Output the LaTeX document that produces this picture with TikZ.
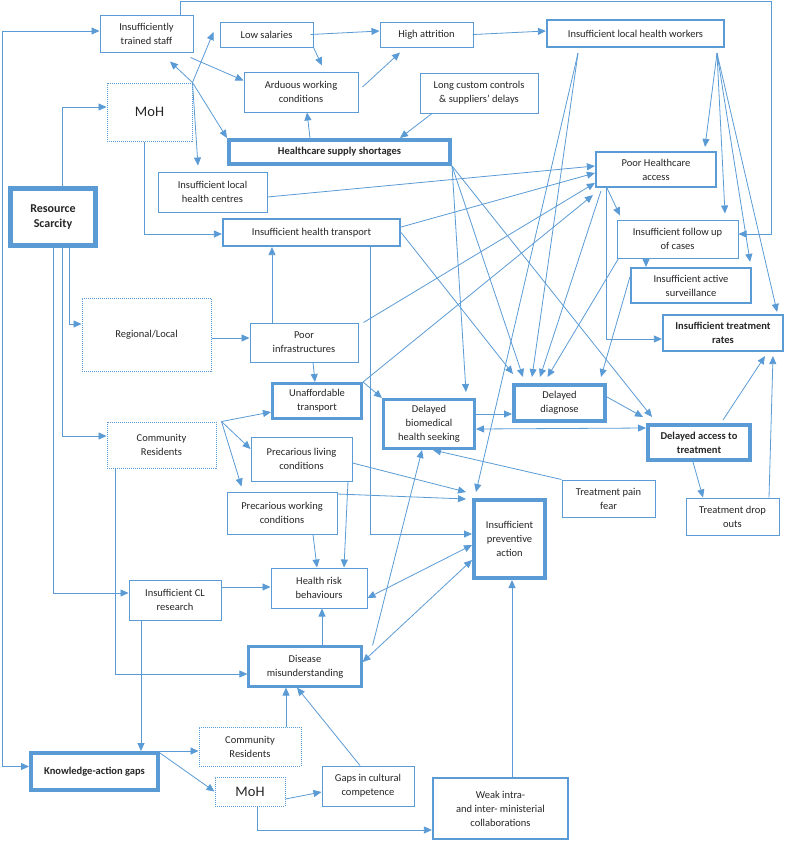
\documentclass[tikz,border=0pt]{standalone}
\usepackage{fontspec}
\setmainfont{Carlito}
\usetikzlibrary{arrows.meta}
\definecolor{bl}{RGB}{91,155,213}
\begin{document}
\begin{tikzpicture}[x=1pt,y=-1pt,
  box/.style={draw=bl, line width=1pt, align=center, inner sep=1pt, text=black!85,
    font=\fontsize{10.5}{14}\selectfont},
  med/.style={box, line width=2.2pt},
  mth/.style={box, line width=3pt},
  thk/.style={box, line width=4pt},
  dot/.style={box, line width=1pt, dash pattern=on 1pt off 1pt},
  big/.style={font=\fontsize{14.5}{17}\selectfont},
  bld/.style={font=\fontsize{10.5}{14}\selectfont\bfseries},
  arr/.style={draw=bl, line width=0.8pt, -{Triangle[length=8pt,width=7pt]}},
  barr/.style={draw=bl, line width=0.8pt, {Triangle[length=8pt,width=7pt]}-{Triangle[length=8pt,width=7pt]}},
]
\fill[white] (0,0) rectangle (785,841);
\useasboundingbox (0,0) rectangle (785,841);

% ---------------- nodes ----------------
\node[box, minimum width=93pt, minimum height=37pt] (ITS) at (146.5,33.5) {Insufficiently\\trained staff};
\node[box, minimum width=93pt, minimum height=25pt] (LS) at (266.5,34.5) {Low salaries};
\node[box, minimum width=93pt, minimum height=25pt] (HA) at (426.5,34.5) {High attrition};
\node[med, minimum width=177pt, minimum height=27pt] (ILHW) at (635.5,33.5) {Insufficient local health workers};
\node[box, minimum width=114pt, minimum height=40pt] (ARD) at (301,92) {Arduous working\\conditions};
\node[box, minimum width=118pt, minimum height=40pt] (LCC) at (479,93) {Long custom controls\\\& suppliers’ delays};
\node[dot, big, minimum width=85pt, minimum height=58pt] (MOHa) at (149.5,112) {MoH};
\node[thk, bld, minimum width=221pt, minimum height=24pt] (HSS) at (339.5,152) {Healthcare supply shortages};
\node[box, minimum width=109pt, minimum height=40pt] (ILHC) at (212.5,192) {Insufficient local\\health centres};
\node[box, line width=5pt, font=\fontsize{12}{15}\selectfont\bfseries, minimum width=85pt, minimum height=57pt] (RS) at (53,217) {Resource\\Scarcity};
\node[med, minimum width=120pt, minimum height=35pt] (PHA) at (656,169.5) {Poor Healthcare\\access};
\node[med, minimum width=177pt, minimum height=27pt] (ILHT) at (311.5,232.5) {Insufficient health transport};
\node[box, minimum width=121pt, minimum height=38pt] (ILFU) at (677.5,239) {Insufficient follow up\\of cases};
\node[med, minimum width=120pt, minimum height=35pt] (IAS) at (691,285.5) {Insufficient active\\surveillance};
\node[med, bld, minimum width=120pt, minimum height=36pt] (ITR) at (723,333) {Insufficient treatment\\rates};
\node[dot, minimum width=129pt, minimum height=73pt] (REG) at (146.5,334.5) {Regional/Local};
\node[box, minimum width=108pt, minimum height=39pt] (PI) at (304,342.5) {Poor\\infrastructures};
\node[mth, minimum width=89pt, minimum height=35pt] (UT) at (317,401) {Unaffordable\\transport};
\node[mth, minimum width=91pt, minimum height=49pt] (DBHS) at (429,424) {Delayed\\biomedical\\health seeking};
\node[thk, minimum width=91pt, minimum height=36pt] (DD) at (559.5,403) {Delayed\\diagnose};
\node[thk, bld, minimum width=102pt, minimum height=35pt] (DAT) at (699,442.5) {Delayed access to\\treatment};
\node[dot, minimum width=109pt, minimum height=46pt] (CRa) at (161.5,445) {Community\\Residents};
\node[box, minimum width=101pt, minimum height=44pt] (PLC) at (301.5,459) {Precarious living\\conditions};
\node[box, minimum width=110pt, minimum height=42pt] (PWC) at (282,513) {Precarious working\\conditions};
\node[box, minimum width=93pt, minimum height=37pt] (TPF) at (608.5,498.5) {Treatment pain\\fear};
\node[box, minimum width=93pt, minimum height=37pt] (TDO) at (732.5,516.5) {Treatment drop\\outs};
\node[thk, minimum width=71pt, minimum height=78pt] (IPA) at (509.5,539) {Insufficient\\preventive\\action};
\node[box, minimum width=96pt, minimum height=40pt] (HRB) at (319,588) {Health risk\\behaviours};
\node[box, minimum width=92pt, minimum height=40pt] (ICLR) at (175,600) {Insufficient CL\\research};
\node[med, minimum width=113pt, minimum height=40pt] (DM) at (305,666.5) {Disease\\misunderstanding};
\node[dot, minimum width=102pt, minimum height=39pt] (CRb) at (250,746.5) {Community\\Residents};
\node[thk, bld, minimum width=127pt, minimum height=37pt] (KAG) at (94.5,771.5) {Knowledge-action gaps};
\node[dot, big, minimum width=70pt, minimum height=29pt] (MOHb) at (250,791.5) {MoH};
\node[box, minimum width=92pt, minimum height=40pt] (GCC) at (368,786) {Gaps in cultural\\competence};
\node[med, minimum width=135pt, minimum height=61pt] (WEAK) at (500.5,808.5) {Weak intra-\\and inter- ministerial\\collaborations};

\coordinate (tr) at (771,1);
\coordinate (tl) at (2,1);

% ---------------- frame connectors ----------------
\draw[barr] ([yshift=2.5pt]ITS.west) -| ([yshift=5pt]KAG.west -| tl) -- ([yshift=5pt]KAG.west);
\draw[arr] ([xshift=33.5pt]ITS.north) |- (tr) |- ([yshift=5pt]ILFU.east);

% ---------------- top ----------------
\draw[arr] ([xshift=-3pt,yshift=-5pt]ITS.south east) -- ([yshift=-9pt]ARD.north west);
\draw[arr] (MOHa.north east) -- ([xshift=-6pt,yshift=2.5pt]LS.west);
\draw[arr] (MOHa.north east) -- ([xshift=23.5pt,yshift=-9pt]ITS.south);
\draw[arr] (MOHa.north east) -- (HSS.north west);
\draw[arr] (MOHa.north east) -- ([xshift=-14.5pt,yshift=6pt]ILHC.north);
\draw[arr] (LS.south east) -- ([xshift=21pt,yshift=6pt]ARD.north);
\draw[arr] ([xshift=-3pt]LS.east) -- ([yshift=3.5pt]HA.west);
\draw[arr] ([xshift=4pt,yshift=5pt]ARD.east) -- ([xshift=-26.5pt,yshift=-5pt]HA.south);
\draw[arr] (HA.east) -- ([yshift=2.5pt]ILHW.west);
\draw[arr] ([xshift=-29.5pt]HSS.north) -- ([xshift=6pt]ARD.south);
\draw[arr] ([xshift=-47pt]LCC.south) -- ([xshift=60.5pt]HSS.north);

% ---------------- left orthogonal ----------------
\draw[arr] ([xshift=9pt]RS.north) |- ([yshift=5pt]MOHa.west);
\draw[arr] ([xshift=-5.5pt]MOHa.south) |- ([yshift=-1.5pt]ILHT.west);
\draw[arr] ([xshift=16pt]RS.south) |- ([yshift=10.5pt]REG.west);
\draw[arr] ([xshift=9pt]RS.south) |- ([yshift=9pt]CRa.west);
\draw[arr] (RS.south) |- ([yshift=7pt]ICLR.west);
\draw[arr] ([xshift=-46.5pt]CRa.south) |- ([yshift=-7.5pt]DM.west);
\draw[arr] ([xshift=-34pt]ICLR.south) -- ([xshift=-34pt]ICLR.south |- KAG.north);
\draw[arr] ([yshift=13pt]ICLR.east) -- ([yshift=13pt]ICLR.east -| HRB.west);

% ---------------- bottom ----------------
\draw[arr] (KAG.north east) -- (KAG.north east -| CRb.west);
\draw[arr] ([yshift=-2pt]KAG.north east) -- (MOHb.west);
\draw[arr] ([yshift=-7.5pt]MOHb.east) -- ([yshift=-6pt]GCC.west);
\draw[arr] ([xshift=7pt]MOHb.south) |- ([yshift=-21.5pt]WEAK.west);
\draw[arr] ([xshift=36pt]CRb.north) -- ([xshift=36pt]CRb.north |- DM.south);
\draw[arr] ([xshift=-8pt]GCC.north) -- ([xshift=-8pt]DM.south);
\draw[arr] ([xshift=11.5pt]WEAK.north) -- ([xshift=11.5pt]WEAK.north |- IPA.south);
\draw[arr] ([xshift=17pt]DM.north) -- ([xshift=17pt]DM.north |- HRB.south);
\draw[arr] ([xshift=10pt]DM.north east) -- ([xshift=-7pt]DBHS.south);
\draw[barr] ([yshift=4.5pt]DM.east) -- ([yshift=-21pt]IPA.west);
\draw[barr] ([yshift=-10pt]HRB.east) -- ([yshift=-6pt]IPA.west);

% ---------------- middle left ----------------
\draw[arr] ([yshift=-4pt]PLC.east) -- ([xshift=-6pt,yshift=6pt]IPA.north west);
\draw[arr] ([xshift=46.5pt]PLC.south) -- ([xshift=25pt]HRB.north);
\draw[arr] ([yshift=19pt]PWC.east) -- ([xshift=-6pt,yshift=-1pt]IPA.north west);
\draw[arr] ([xshift=31pt]PWC.south) -- ([xshift=-2pt]HRB.north);
\draw[arr] ([xshift=58.5pt]ILHT.south) |- ([yshift=5pt]IPA.west);
\draw[arr] ([xshift=5pt]CRa.north east) -- ([yshift=-11pt]UT.west);
\draw[arr] ([xshift=5pt]CRa.north east) -- ([yshift=10pt]PLC.west);
\draw[arr] ([xshift=5pt]CRa.north east) -- ([xshift=15pt,yshift=5pt]PWC.north west);
\draw[arr] ([yshift=-3.5pt]REG.east) -- ([yshift=-3.5pt]REG.east -| PI.west);
\draw[arr] ([xshift=-32pt]PI.north) -- ([xshift=-32pt]PI.north |- ILHT.south);
\draw[arr] ([xshift=9pt]PI.south) -- ([xshift=-2pt]UT.north);
\draw[arr] ([yshift=-5pt]ILHC.east) -- ([yshift=3.5pt]PHA.west);
\draw[arr] ([yshift=5.5pt]ILHT.east) -- ([yshift=-3.5pt]PHA.west);
\draw[arr] ([xshift=5pt]PI.north east) -- ([yshift=-13.5pt]PHA.west);
\draw[arr] (UT.north east) -- ([xshift=-2pt,yshift=-7pt]PHA.south west);
\draw[arr] (UT.north east) -- (DBHS.north west);

% ---------------- middle ----------------
\draw[arr] ([yshift=10pt]DBHS.east) -- ([yshift=10pt]DBHS.east -| DD.west);
\draw[barr] ([yshift=-5pt]DBHS.east) -- ([yshift=14.5pt]DAT.west);
\draw[arr] (TPF.north west) -- ([xshift=4pt]DBHS.south);
\draw[arr] ([yshift=6pt]DD.east) -- ([xshift=-3pt,yshift=6pt]DAT.north west);
\draw[arr] (HSS.south east) -- ([xshift=6pt,yshift=6pt]DAT.north west);
\draw[arr] (HSS.south east) -- ([xshift=-36.5pt,yshift=6pt]DD.north);
\draw[arr] (HSS.south east) -- ([xshift=37pt,yshift=6pt]DBHS.north);
\draw[arr] (ILHT.east) -- ([xshift=-46.5pt,yshift=9pt]DD.north);
\draw[arr] ([xshift=-57.5pt,yshift=-5pt]ILHW.south) -- ([xshift=-27.5pt,yshift=6pt]DD.north);
\draw[arr] ([xshift=-57.5pt,yshift=-5pt]ILHW.south) -- ([xshift=4pt,yshift=6pt]IPA.north west);
\draw[arr] ([xshift=6pt,yshift=-3pt]PHA.south west) -- ([xshift=-19.5pt,yshift=6pt]DD.north);
\draw[arr] ([xshift=2pt]ILFU.south west) -- ([xshift=-12pt,yshift=6pt]DD.north);
\draw[arr] ([yshift=8.5pt]IAS.west) -- ([xshift=-6pt,yshift=6pt]DD.north east);

% ---------------- right ----------------
\draw[arr] ([xshift=-49pt]PHA.south) -- ([xshift=-57.5pt,yshift=4pt]ILFU.north);
\draw[arr] ([xshift=-50pt]PHA.south) |- ([yshift=-6pt]ITR.west);
\draw[arr] ([xshift=-31.5pt]ILFU.south) -- ([xshift=-45pt]IAS.north);
\draw[arr] ([xshift=81.5pt,yshift=-5pt]ILHW.south) -- ([xshift=49pt,yshift=4pt]PHA.north);
\draw[arr] ([xshift=81.5pt,yshift=-5pt]ILHW.south) -- ([xshift=47.5pt,yshift=6pt]ILFU.north);
\draw[arr] ([xshift=81.5pt,yshift=-5pt]ILHW.south) -- ([xshift=-2pt,yshift=5pt]IAS.north east);
\draw[arr] ([xshift=81.5pt,yshift=-5pt]ILHW.south) -- ([xshift=-7pt,yshift=2pt]ITR.north east);
\draw[arr] ([xshift=-6pt]DAT.south) -- ([xshift=-29.5pt]TDO.north);
\draw[arr] ([xshift=36.5pt]TDO.north) -- ([xshift=50pt,yshift=-4pt]ITR.south);
\draw[arr] ([xshift=24pt,yshift=3pt]DAT.north) -- ([xshift=42pt,yshift=-4pt]ITR.south);
\end{tikzpicture}
\end{document}
